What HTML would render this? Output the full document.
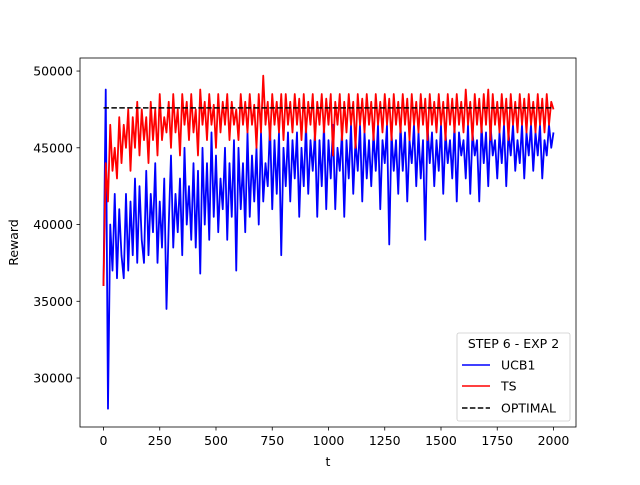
<!DOCTYPE html>
<html><head><meta charset="utf-8"><style>
body{margin:0;background:#fff;}
svg text{font-family:"DejaVu Sans","Liberation Sans",sans-serif;font-size:12.5px;fill:#000;}
</style></head><body>
<svg id="chart" width="640" height="480" viewBox="0 0 640 480" xmlns="http://www.w3.org/2000/svg">
<rect width="640" height="480" fill="#fff"/>
<g id="plot"></g>
</svg>
<script>
const xTicks=[0,250,500,750,1000,1250,1500,1750,2000];
const yTicks=[30000,35000,40000,45000,50000];
const tStep=10;
const ucbValues=[36000,48800,28000,40000,37000,42000,36500,41000,38000,36500,
42000,37000,41500,38000,43000,37500,42500,39000,37500,43500,
38000,42000,39500,44000,37500,41500,38500,43000,34500,40000,
44500,38500,42000,39500,43000,38000,45000,40000,42500,39000,
44000,38500,43500,36800,45000,40000,44000,39000,46000,40500,
44500,39500,43000,41000,45000,39000,44000,40500,45500,37000,
45000,41000,44000,39500,46000,40500,44500,41500,45000,40000,
46000,41500,44000,42500,46500,41000,45500,42000,46000,38000,
45000,42500,46000,41500,45500,43000,46000,40500,45000,42500,
46500,42000,45500,43500,46000,40500,45500,42500,46500,41000,
45500,43000,46500,41000,45000,43500,46000,40500,45500,43000,
46500,42000,45500,43500,46500,41500,46000,43000,45500,42500,
46000,43500,46500,41000,45500,44000,46500,38700,46000,43500,
45500,42000,46500,43500,46000,41500,45500,44000,46500,42500,
46000,43000,45500,39000,46500,44000,46000,42500,45500,43500,
46500,42000,46000,44000,45500,43000,46500,41500,46000,44500,
45500,43000,46500,42000,46000,44500,45500,41500,46500,44000,
46000,42500,46500,44500,45500,43000,46000,44000,46500,42500,
46000,44500,46500,43500,45500,44000,46500,43000,46000,44500,
46500,43500,46000,44500,46500,43000,45500,44500,46500,45000,
46000];
const tsValues=[36000,44000,41500,46500,43500,45000,43000,47000,44000,46500,
45000,47500,43500,47000,45000,48000,44500,47500,45500,47000,
44000,48000,45500,47500,44500,48500,45500,47000,46000,48000,
45000,48500,46000,47500,44500,48500,46500,48000,45500,48500,
46000,47500,44500,48800,46500,48000,45500,48500,46500,47800,
45000,48500,46000,48000,46500,48500,45500,48000,46500,47500,
45500,48500,46500,48000,46000,48500,46500,47800,45000,48500,
46000,49700,46500,48000,45500,48500,46500,48000,46000,48500,
45500,48500,46500,48000,46000,48500,46500,48200,45500,48500,
46000,48000,46500,48500,45500,48000,46500,48500,46000,48200,
46500,48500,44500,48000,46500,48500,45500,48000,46000,48500,
46500,48000,45000,48500,46500,48200,46000,48500,46500,48000,
45500,48500,46500,48000,46000,48500,46500,48200,45500,48500,
46500,48000,46000,48500,46500,48200,45500,48500,46500,48000,
46000,48500,46500,48200,45500,48500,46500,48000,46000,48500,
46500,48000,45500,48500,46500,48200,46000,48500,46500,48000,
46000,48800,46500,48000,45500,48500,46500,48200,46000,48500,
46500,48800,45500,48500,46500,48000,46000,48500,46500,48200,
45500,48500,46500,48000,46000,48500,46500,48200,46000,48500,
46500,48000,46000,48500,46500,48200,46000,48500,46500,48000,
47500];
const optimalValue=47600;

const L=80,R=576,T=58,B=427;
const xMin=-104.4,xMax=2100,yMin=26810,yMax=50850;
const X=v=>L+(v-xMin)/(xMax-xMin)*(R-L);
const Y=v=>B-(v-yMin)/(yMax-yMin)*(B-T);
const g=document.getElementById('plot');
const NS='http://www.w3.org/2000/svg';
function mk(tag,attrs,parent){const e=document.createElementNS(NS,tag);for(const k in attrs)e.setAttribute(k,attrs[k]);(parent||g).appendChild(e);return e;}

function series(vals,color,name){
  const d=vals.map((v,i)=>(i?'L':'M')+X(i*tStep).toFixed(2)+','+Y(v).toFixed(2)).join('');
  const p=mk('path',{d:d,fill:'none',stroke:color,'stroke-width':1.8,'stroke-linejoin':'round'});
  
  
}
series(ucbValues,'#0000ff','ucb1-line');
series(tsValues,'#ff0000','ts-line');
const opt=mk('line',{x1:X(0),x2:X(2000),y1:Y(optimalValue),y2:Y(optimalValue),stroke:'#000','stroke-width':1.5,'stroke-dasharray':'5.5,2.4'});



const frame=mk('rect',{x:L,y:T,width:R-L,height:B-T,fill:'none',stroke:'#000','stroke-width':0.8});



xTicks.forEach(v=>{
  mk('line',{x1:X(v),x2:X(v),y1:B,y2:B+3.5,stroke:'#000','stroke-width':0.8});
  const t=mk('text',{x:X(v),y:B+18,'text-anchor':'middle'});t.textContent=v;
  
  
});
yTicks.forEach(v=>{
  mk('line',{x1:L-3.5,x2:L,y1:Y(v),y2:Y(v),stroke:'#000','stroke-width':0.8});
  const t=mk('text',{x:L-7,y:Y(v)+4.5,'text-anchor':'end'});t.textContent=v;
  
  
});
const xt=mk('text',{x:(L+R)/2,y:466,'text-anchor':'middle'});xt.textContent='t';


const yt=mk('text',{x:18,y:(T+B)/2,'text-anchor':'middle',transform:'rotate(-90 18 '+((T+B)/2)+')'});yt.textContent='Reward';



const lg=mk('g',{});


mk('rect',{x:457,y:333,width:113,height:88,rx:2,fill:'#fff','fill-opacity':0.8,stroke:'#ccc','stroke-width':0.8},lg);
const lt=mk('text',{x:513.5,y:348,'text-anchor':'middle'},lg);lt.textContent='STEP 6 - EXP 2';
[['UCB1','#0000ff',null,365],['TS','#ff0000',null,386],['OPTIMAL','#000','5.5,2.4',408]].forEach(([n,c,da,y])=>{
  const ln=mk('line',{x1:462,x2:490,y1:y,y2:y,stroke:c,'stroke-width':1.5},lg);
  if(da)ln.setAttribute('stroke-dasharray',da);
  const tx=mk('text',{x:501,y:y+4.5},lg);tx.textContent=n;
  
  
});
</script>
</body></html>
